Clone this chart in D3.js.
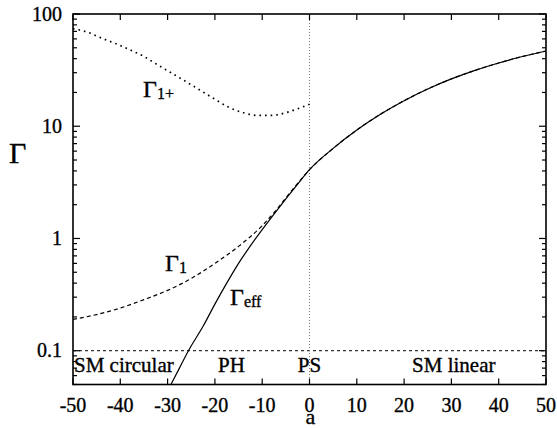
<!DOCTYPE html>
<html>
<head>
<meta charset="utf-8">
<script src="https://cdn.jsdelivr.net/npm/d3@7"></script>
<style>
  body { margin: 0; background: #fff; }
  #chart text { font-family: "Liberation Serif", "Times New Roman", Times, serif; fill: #000; stroke: #000; stroke-width: 0.35; }
</style>
</head>
<body>
<svg id="chart" width="557" height="428" font-family="Liberation Serif, Times New Roman, serif"></svg>
<script>
// Gamma vs a, log y.
const aTicks = [-50, -40, -30, -20, -10, 0, 10, 20, 30, 40, 50];
const yTicks = [0.1, 1, 10, 100];

// Γ1 (dashed), whole range
const gamma1 = [
  [-50, 0.19], [-45, 0.21], [-40, 0.24], [-35, 0.285], [-30, 0.345],
  [-25, 0.44], [-20, 0.6], [-15, 0.85], [-10, 1.3], [-7, 1.8], [-5, 2.3],
  [-2.5, 3.1], [0, 4.1], [5, 6.35], [10, 9.25], [15, 12.8], [20, 16.9],
  [25, 21.5], [30, 26.4], [35, 31.5], [40, 36.6], [45, 41.8], [50, 46.8]
];
// Γeff (solid), starts at the bottom edge
const gammaEff = [
  [-29.3, 0.05], [-27.5, 0.07], [-25.6, 0.1], [-22.5, 0.165], [-20, 0.26],
  [-17.5, 0.4], [-15, 0.6], [-12.5, 0.86], [-10, 1.2], [-7.5, 1.65],
  [-5, 2.25], [-2.5, 3.05], [0, 4.1], [5, 6.35], [10, 9.25], [15, 12.8],
  [20, 16.9], [25, 21.5], [30, 26.4], [35, 31.5], [40, 36.6], [45, 41.8], [50, 46.8]
];
// Γ1+ (dotted), only for a < 0
const gamma1p = [
  [-50, 74], [-47, 69], [-44, 61], [-41, 54.5], [-38, 48], [-35, 41.8],
  [-32, 35], [-29, 29.5], [-26, 24.8], [-23, 20.8], [-20, 17.4],
  [-17, 14.7], [-14, 13.2], [-11, 12.5], [-8, 12.5], [-5, 13.2],
  [-2.5, 14.3], [0, 15.7]
];

const regions = [
  { text: "SM circular", a: -50, anchor: "start" },
  { text: "PH", a: -16.5, anchor: "middle" },
  { text: "PS", a: 0, anchor: "middle" },
  { text: "SM linear", a: 30.5, anchor: "middle" }
];

const svg = d3.select("#chart");
const m = { left: 73, right: 546, top: 14, bottom: 384.5 };

const x = d3.scaleLinear().domain([-50, 50]).range([m.left, m.right]);
const y = d3.scaleLog().domain([0.05, 100]).range([m.bottom, m.top]);

// minor log ticks
const minor = [];
[0.01, 0.1, 1, 10].forEach(dec => {
  for (let k = 2; k <= 9; k++) {
    const v = dec * k;
    if (v >= 0.05 && v <= 100) minor.push(v);
  }
});

const g = svg.append("g");

// reference lines
g.append("line")
  .attr("x1", x(-50)).attr("x2", x(50))
  .attr("y1", y(0.1)).attr("y2", y(0.1))
  .attr("stroke", "#000").attr("stroke-width", 1)
  .attr("stroke-dasharray", "3,3");
g.append("line")
  .attr("x1", x(0)).attr("x2", x(0))
  .attr("y1", m.top).attr("y2", m.bottom)
  .attr("stroke", "#777").attr("stroke-width", 1)
  .attr("stroke-dasharray", "1,2");

// ticks (inward, on all four sides)
const ticks = g.append("g").attr("stroke", "#000").attr("stroke-width", 1.2);
aTicks.forEach(a => {
  ticks.append("line").attr("x1", x(a)).attr("x2", x(a)).attr("y1", m.bottom).attr("y2", m.bottom - 6);
  ticks.append("line").attr("x1", x(a)).attr("x2", x(a)).attr("y1", m.top).attr("y2", m.top + 6);
});
yTicks.forEach(v => {
  ticks.append("line").attr("x1", m.left).attr("x2", m.left + 7).attr("y1", y(v)).attr("y2", y(v));
  ticks.append("line").attr("x1", m.right).attr("x2", m.right - 7).attr("y1", y(v)).attr("y2", y(v));
});
minor.forEach(v => {
  ticks.append("line").attr("x1", m.left).attr("x2", m.left + 4).attr("y1", y(v)).attr("y2", y(v));
  ticks.append("line").attr("x1", m.right).attr("x2", m.right - 4).attr("y1", y(v)).attr("y2", y(v));
});

// curves
const line = d3.line()
  .x(d => x(d[0]))
  .y(d => y(d[1]))
  .curve(d3.curveMonotoneX);

g.append("path").datum(gammaEff)
  .attr("d", line).attr("fill", "none")
  .attr("stroke", "#000").attr("stroke-width", 1.2);
g.append("path").datum(gamma1)
  .attr("d", line).attr("fill", "none")
  .attr("stroke", "#000").attr("stroke-width", 1.2)
  .attr("stroke-dasharray", "4,3");
g.append("path").datum(gamma1p)
  .attr("d", line).attr("fill", "none")
  .attr("stroke", "#000").attr("stroke-width", 1.7)
  .attr("stroke-dasharray", "1.6,4");

// frame
g.append("rect")
  .attr("x", m.left).attr("y", m.top)
  .attr("width", m.right - m.left).attr("height", m.bottom - m.top)
  .attr("fill", "none").attr("stroke", "#000").attr("stroke-width", 1.6);

// tick labels
g.selectAll("text.xt").data(aTicks).join("text")
  .attr("class", "xt")
  .attr("x", d => x(d)).attr("y", 412)
  .attr("text-anchor", "middle").attr("font-size", 20)
  .text(d => d);
g.selectAll("text.yt").data(yTicks).join("text")
  .attr("class", "yt")
  .attr("x", 62).attr("y", d => y(d) + 6.5)
  .attr("text-anchor", "end").attr("font-size", 20)
  .text(d => d);

// axis titles
svg.append("text").attr("x", 9).attr("y", 163).attr("font-size", 30).text("Γ");
svg.append("text").attr("x", x(0) + 1).attr("y", 424).attr("text-anchor", "middle")
  .attr("font-size", 22).text("a");

// region labels
g.selectAll("text.reg").data(regions).join("text")
  .attr("class", "reg")
  .attr("x", d => d.anchor === "start" ? x(d.a) + 1 : x(d.a))
  .attr("y", 372)
  .attr("text-anchor", d => d.anchor)
  .attr("font-size", 21)
  .text(d => d.text);

// curve labels
function gammaLabel(px, py, sub) {
  const t = svg.append("text").attr("x", px).attr("y", py).attr("font-size", 24);
  t.append("tspan").text("Γ");
  t.append("tspan").attr("font-size", 16).attr("dy", 2).text(sub);
}
gammaLabel(143, 97, "1+");
gammaLabel(165, 271, "1");
gammaLabel(230, 305, "eff");
</script>
</body>
</html>
